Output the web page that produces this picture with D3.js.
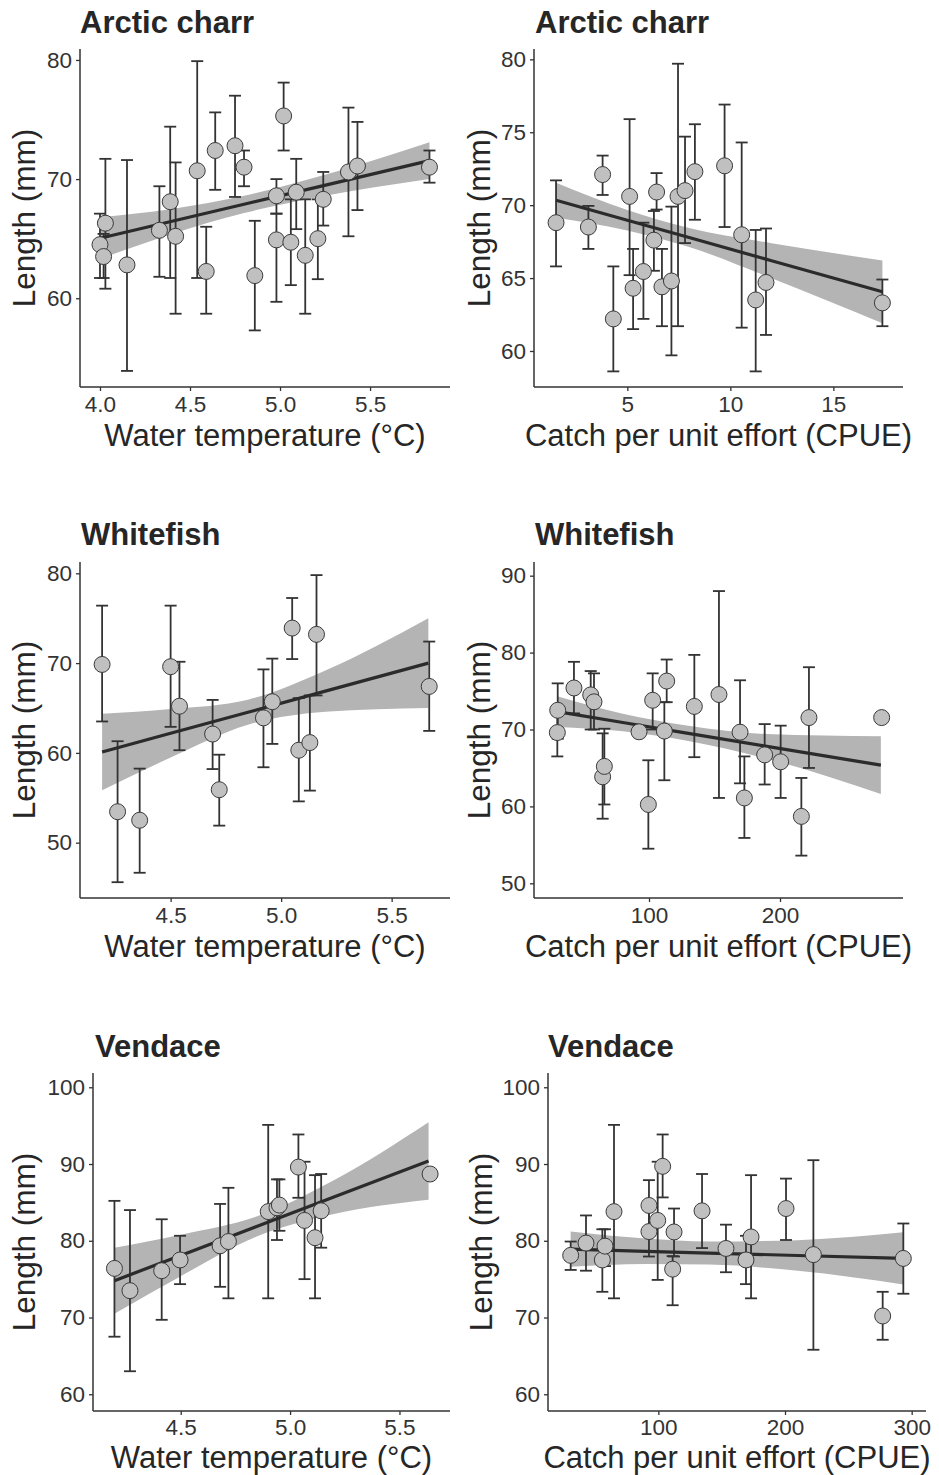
<!DOCTYPE html>
<html>
<head>
<meta charset="utf-8">
<script src="https://cdn.jsdelivr.net/npm/d3@7"></script>
<style>
  body { margin: 0; background: #fff; }
  svg { display: block; font-family: "Liberation Sans", Arial, sans-serif; }
</style>
</head>
<body>
<svg id="svg" width="939" height="1475"></svg>
<script>
// Arctic charr - water temperature
const charrTempX  = [4.00, 4.02, 4.03, 4.15, 4.33, 4.39, 4.42, 4.54, 4.59, 4.64, 4.75, 4.80, 4.86, 4.98, 4.98, 5.02, 5.06, 5.09, 5.14, 5.21, 5.24, 5.38, 5.43, 5.83];
const charrTempY  = [64.5, 63.5, 66.3, 62.8, 65.7, 68.1, 65.2, 70.7, 62.25, 72.4, 72.8, 71.0, 61.9, 68.6, 64.9, 75.3, 64.7, 68.9, 63.6, 65.0, 68.3, 70.6, 71.1, 71.0];
const charrTempLo = [61.7, 61.7, 60.8, 53.9, 61.8, 61.7, 58.7, 61.7, 58.7, 69.1, 68.5, 69.4, 57.3, 67.1, 59.7, 72.4, 61.1, 65.8, 58.7, 61.6, 66.1, 65.2, 67.4, 69.7];
const charrTempHi = [67.1, 65.4, 71.7, 71.6, 69.4, 74.4, 71.4, 79.9, 66.0, 75.6, 77.0, 72.4, 66.5, 70.0, 67.1, 78.1, 68.3, 71.7, 68.3, 68.3, 70.6, 76.0, 74.8, 72.4];

// Arctic charr - CPUE
const charrCpueX  = [1.54, 3.11, 3.80, 4.32, 5.11, 5.28, 5.78, 6.29, 6.42, 6.68, 7.14, 7.46, 7.80, 8.28, 9.72, 10.55, 11.23, 11.73, 17.38];
const charrCpueY  = [68.8, 68.5, 72.1, 62.2, 70.6, 64.3, 65.45, 67.6, 70.9, 64.4, 64.8, 70.6, 71.0, 72.3, 72.7, 67.97, 63.5, 64.7, 63.3];
const charrCpueLo = [65.8, 67.0, 70.7, 58.6, 65.2, 61.5, 62.2, 65.5, 69.7, 61.7, 59.7, 61.7, 67.4, 69.0, 68.5, 61.6, 58.6, 61.1, 61.7];
const charrCpueHi = [71.7, 69.95, 73.4, 65.8, 75.9, 67.0, 68.8, 69.6, 72.2, 67.0, 69.9, 79.7, 74.7, 75.55, 76.9, 74.3, 68.3, 68.4, 64.9];

// Whitefish - water temperature
const whiteTempX  = [4.19, 4.26, 4.36, 4.50, 4.54, 4.69, 4.72, 4.92, 4.96, 5.05, 5.08, 5.13, 5.16, 5.67];
const whiteTempY  = [69.85, 53.45, 52.5, 69.6, 65.2, 62.1, 55.9, 63.9, 65.7, 73.9, 60.3, 61.15, 73.2, 67.4];
const whiteTempLo = [63.5, 45.6, 46.65, 62.9, 60.3, 58.2, 51.9, 58.4, 61.0, 70.45, 54.6, 55.8, 66.4, 62.45];
const whiteTempHi = [76.4, 61.3, 58.25, 76.4, 70.15, 65.9, 59.8, 69.3, 70.5, 77.25, 66.1, 66.4, 79.8, 72.4];

// Whitefish - CPUE
const whiteCpueX  = [30.3, 30.0, 42.7, 55.5, 58.0, 64.6, 65.9, 92.4, 99.5, 102.8, 111.7, 113.5, 134.6, 153.4, 169.5, 172.8, 188.3, 200.5, 216.3, 222.1, 277.6];
const whiteCpueY  = [72.5, 69.6, 75.4, 74.5, 73.6, 63.85, 65.2, 69.7, 60.25, 73.8, 69.8, 76.3, 73.0, 74.55, 69.65, 61.1, 66.7, 65.8, 58.7, 71.55, 71.55];
const whiteCpueLo = [68.8, 66.5, 72.1, 70.0, 70.0, 58.4, 60.25, 69.0, 54.5, 70.0, 63.4, 73.55, 66.4, 61.1, 63.0, 55.9, 62.85, 61.1, 53.6, 65.0, 71.0];
const whiteCpueHi = [76.0, 72.5, 78.8, 77.6, 77.3, 69.5, 70.1, 70.4, 66.0, 77.3, 73.55, 79.1, 79.7, 88.0, 76.4, 66.5, 70.7, 70.5, 63.7, 78.1, 72.1];

// Vendace - water temperature
const vendTempX  = [4.197, 4.268, 4.413, 4.497, 4.68, 4.718, 4.90, 4.94, 4.951, 5.038, 5.066, 5.114, 5.142, 5.64];
const vendTempY  = [76.4, 73.5, 76.1, 77.5, 79.35, 79.9, 83.8, 84.3, 84.65, 89.6, 82.65, 80.4, 83.9, 88.7];
const vendTempLo = [67.5, 63.0, 69.7, 74.35, 74.0, 72.5, 72.5, 80.1, 81.3, 85.6, 75.0, 72.5, 79.1, 88.2];
const vendTempHi = [85.2, 84.0, 82.8, 80.65, 84.8, 86.9, 95.1, 88.0, 88.0, 93.85, 90.3, 88.55, 88.7, 89.2];

// Vendace - CPUE
const vendCpueX  = [30.8, 42.9, 55.8, 57.9, 65.0, 92.6, 92.6, 99.5, 103.4, 112.4, 111.3, 134.5, 153.4, 169.2, 173.2, 200.8, 222.4, 277.1, 293.4];
const vendCpueY  = [78.1, 79.7, 77.5, 79.3, 83.8, 84.6, 81.2, 82.65, 89.7, 81.15, 76.3, 83.9, 79.0, 77.5, 80.5, 84.2, 78.2, 70.2, 77.7];
const vendCpueLo = [76.2, 76.1, 73.35, 76.7, 72.5, 81.3, 77.95, 74.9, 85.65, 77.95, 71.6, 79.05, 75.9, 74.35, 72.5, 80.1, 65.8, 67.1, 73.1];
const vendCpueHi = [79.9, 83.3, 81.5, 81.5, 95.1, 87.9, 84.5, 90.3, 93.85, 84.2, 78.0, 88.7, 82.1, 80.65, 88.55, 88.1, 90.5, 73.35, 82.25];

// fitted lm line and 95% band, read at a few x positions
const charrTempFitX = [4.0, 4.4, 4.8, 5.2, 5.83];
const charrTempFit  = [65.04, 66.46, 67.89, 69.31, 71.55];
const charrTempFitLo = [63.3, 65.4, 67.15, 68.45, 70.0];
const charrTempFitHi = [66.8, 67.5, 68.6, 70.15, 73.1];

const charrCpueFitX = [1.54, 5, 8, 12, 17.38];
const charrCpueFit  = [70.34, 68.97, 67.78, 66.19, 64.06];
const charrCpueFitLo = [69.14, 68.27, 67.13, 64.99, 61.91];
const charrCpueFitHi = [71.54, 69.67, 68.43, 67.39, 66.21];

const whiteTempFitX = [4.19, 4.5, 4.85, 5.2, 5.666];
const whiteTempFit  = [60.1, 62.18, 64.53, 66.88, 70.0];
const whiteTempFitLo = [55.85, 59.48, 63.13, 64.58, 65.0];
const whiteTempFitHi = [64.35, 64.88, 65.93, 69.18, 75.0];

const whiteCpueFitX = [30, 80, 130, 190, 277];
const whiteCpueFit  = [72.32, 70.91, 69.5, 67.81, 65.36];
const whiteCpueFitLo = [70.32, 69.76, 68.5, 66.21, 61.61];
const whiteCpueFitHi = [74.32, 72.06, 70.5, 69.41, 69.11];

const vendTempFitX = [4.197, 4.5, 4.85, 5.2, 5.633];
const vendTempFit  = [74.8, 78.09, 81.89, 85.69, 90.4];
const vendTempFitLo = [70.5, 75.39, 80.59, 83.49, 85.35];
const vendTempFitHi = [79.1, 80.79, 83.19, 87.89, 95.45];

const vendCpueFitX = [30.8, 90, 140, 210, 293.4];
const vendCpueFit  = [78.9, 78.63, 78.4, 78.08, 77.7];
const vendCpueFitLo = [76.6, 76.98, 76.9, 76.08, 74.3];
const vendCpueFitHi = [81.2, 80.28, 79.9, 80.08, 81.1];

// tick values
const tempTicksA = [4.0, 4.5, 5.0, 5.5];
const tempTicksB = [4.5, 5.0, 5.5];
const charrCpueTicks = [5, 10, 15];
const cpueTicks = [100, 200];
const cpueTicksV = [100, 200, 300];
const lenTicksCharr = [60, 70, 80];
const lenTicksCharr5 = [60, 65, 70, 75, 80];
const lenTicksWhite = [50, 60, 70, 80];
const lenTicksWhite2 = [50, 60, 70, 80, 90];
const lenTicksVend = [60, 70, 80, 90, 100];

const speciesTitles = ["Arctic charr", "Whitefish", "Vendace"];
const xTitleTemp = "Water temperature (\u00B0C)";
const xTitleCpue = "Catch per unit effort (CPUE)";
const yTitle = "Length (mm)";

var svg = d3.select("#svg");
svg.append("rect").attr("width", 939).attr("height", 1475).attr("fill", "#fff");

// the right column x titles are cut off in the original
svg.append("defs").append("clipPath").attr("id", "cut")
  .append("rect").attr("x", 0).attr("y", 0).attr("width", 912).attr("height", 1475);

function pack(x, y, lo, hi) {
  return x.map(function(d, i) { return {x: d, y: y[i], lo: lo[i], hi: hi[i]}; });
}

function drawPanel(p) {
  var g = svg.append("g");

  var sx = d3.scaleLinear().domain(p.xd).range([p.left, p.right]);
  var sy = d3.scaleLinear().domain(p.yd).range([p.bottom, p.top]);

  // ribbon
  var band = pack(p.fitX, p.fit, p.fitLo, p.fitHi);
  g.append("path")
    .datum(band)
    .attr("fill", "#b4b4b4")
    .attr("d", d3.area()
      .x(function(d) { return sx(d.x); })
      .y0(function(d) { return sy(d.lo); })
      .y1(function(d) { return sy(d.hi); })
      .curve(d3.curveMonotoneX));

  var pts = pack(p.x, p.y, p.lo, p.hi);

  // error bars
  var eb = g.selectAll(".eb").data(pts).enter().append("g")
    .attr("stroke", "#333").attr("stroke-width", 1.8).attr("fill", "none");
  eb.append("line")
    .attr("x1", function(d) { return sx(d.x); }).attr("x2", function(d) { return sx(d.x); })
    .attr("y1", function(d) { return sy(d.lo); }).attr("y2", function(d) { return sy(d.hi); });
  eb.append("line")
    .attr("x1", function(d) { return sx(d.x) - 6; }).attr("x2", function(d) { return sx(d.x) + 6; })
    .attr("y1", function(d) { return sy(d.lo); }).attr("y2", function(d) { return sy(d.lo); });
  eb.append("line")
    .attr("x1", function(d) { return sx(d.x) - 6; }).attr("x2", function(d) { return sx(d.x) + 6; })
    .attr("y1", function(d) { return sy(d.hi); }).attr("y2", function(d) { return sy(d.hi); });

  // fitted line
  g.append("path")
    .datum(band)
    .attr("fill", "none")
    .attr("stroke", "#2b2b2b")
    .attr("stroke-width", 3.2)
    .attr("d", d3.line()
      .x(function(d) { return sx(d.x); })
      .y(function(d) { return sy(d.y); }));

  // points
  g.selectAll(".pt").data(pts).enter().append("circle")
    .attr("cx", function(d) { return sx(d.x); })
    .attr("cy", function(d) { return sy(d.y); })
    .attr("r", 8)
    .attr("fill", "#c0c0c0")
    .attr("stroke", "#3a3a3a")
    .attr("stroke-width", 1);

  // axes
  var ax = g.append("g").attr("transform", "translate(0," + p.bottom + ")")
    .call(d3.axisBottom(sx).tickValues(p.xt).tickSize(4).tickPadding(p.pad).tickFormat(p.xf));
  var ay = g.append("g").attr("transform", "translate(" + p.left + ",0)")
    .call(d3.axisLeft(sy).tickValues(p.yt).tickSize(4).tickPadding(4).tickFormat(d3.format("d")));
  [ax, ay].forEach(function(a) {
    a.select(".domain").attr("stroke", "#333").attr("stroke-width", 1.5);
    a.selectAll(".tick line").attr("stroke", "#333").attr("stroke-width", 1.3);
    a.selectAll(".tick text").attr("fill", "#333").style("font-size", "22.5px")
      .style("font-family", "'Liberation Sans', Arial, sans-serif");
  });
  // axis lines run to the panel edge, like ggplot
  ax.select(".domain").attr("d", "M" + p.left + ",0H" + p.right);
  ay.select(".domain").attr("d", "M0," + p.bottom + "V" + p.top);

  // titles
  g.append("text")
    .attr("x", p.titleX).attr("y", p.titleY)
    .attr("font-weight", "bold").attr("font-size", 31).attr("fill", "#262626")
    .text(p.title);

  var xt = g.append("text")
    .attr("x", (p.left + p.right) / 2).attr("y", p.bottom + p.xOff)
    .attr("text-anchor", "middle").attr("font-size", 31).attr("fill", "#262626")
    .text(p.xTitle);
  if (p.cut) xt.attr("clip-path", "url(#cut)");

  g.append("text")
    .attr("transform", "translate(" + (p.left - p.yOff) + "," + (p.top + p.bottom) / 2 + ") rotate(-90)")
    .attr("text-anchor", "middle").attr("font-size", 31.5).attr("fill", "#262626")
    .text(yTitle);
}

var f1 = d3.format(".1f");
var fd = d3.format("d");

var panels = [
  {title: speciesTitles[0], titleX: 80, titleY: 33, xTitle: xTitleTemp, xOff: 59, pad: 5,
   left: 80, right: 450, top: 49, bottom: 387, xd: [3.889, 5.944], yd: [52.55, 80.92],
   xt: tempTicksA, yt: lenTicksCharr, xf: f1, yOff: 45,
   x: charrTempX, y: charrTempY, lo: charrTempLo, hi: charrTempHi,
   fitX: charrTempFitX, fit: charrTempFit, fitLo: charrTempFitLo, fitHi: charrTempFitHi},
  {title: speciesTitles[0], titleX: 535, titleY: 33, xTitle: xTitleCpue, xOff: 59, pad: 5, cut: true,
   left: 534, right: 903, top: 49, bottom: 387, xd: [0.47, 18.38], yd: [57.53, 80.71],
   xt: charrCpueTicks, yt: lenTicksCharr5, xf: fd, yOff: 44,
   x: charrCpueX, y: charrCpueY, lo: charrCpueLo, hi: charrCpueHi,
   fitX: charrCpueFitX, fit: charrCpueFit, fitLo: charrCpueFitLo, fitHi: charrCpueFitHi},
  {title: speciesTitles[1], titleX: 81, titleY: 545, xTitle: xTitleTemp, xOff: 59, pad: 5,
   left: 80, right: 450, top: 562, bottom: 898, xd: [4.09, 5.764], yd: [43.84, 81.26],
   xt: tempTicksB, yt: lenTicksWhite, xf: f1, yOff: 45,
   x: whiteTempX, y: whiteTempY, lo: whiteTempLo, hi: whiteTempHi,
   fitX: whiteTempFitX, fit: whiteTempFit, fitLo: whiteTempFitLo, fitHi: whiteTempFitHi},
  {title: speciesTitles[1], titleX: 535, titleY: 545, xTitle: xTitleCpue, xOff: 59, pad: 5, cut: true,
   left: 534, right: 903, top: 562, bottom: 898, xd: [12.2, 293.9], yd: [48.09, 91.78],
   xt: cpueTicks, yt: lenTicksWhite2, xf: fd, yOff: 44,
   x: whiteCpueX, y: whiteCpueY, lo: whiteCpueLo, hi: whiteCpueHi,
   fitX: whiteCpueFitX, fit: whiteCpueFit, fitLo: whiteCpueFitLo, fitHi: whiteCpueFitHi},
  {title: speciesTitles[2], titleX: 95, titleY: 1057, xTitle: xTitleTemp, xOff: 57, pad: 4,
   left: 93, right: 450, top: 1073, bottom: 1411, xd: [4.099, 5.731], yd: [57.82, 101.86],
   xt: tempTicksB, yt: lenTicksVend, xf: f1, yOff: 58,
   x: vendTempX, y: vendTempY, lo: vendTempLo, hi: vendTempHi,
   fitX: vendTempFitX, fit: vendTempFit, fitLo: vendTempFitLo, fitHi: vendTempFitHi},
  {title: speciesTitles[2], titleX: 548, titleY: 1057, xTitle: xTitleCpue, xOff: 57, pad: 4,
   left: 548, right: 926, top: 1073, bottom: 1411, xd: [12.9, 311.3], yd: [57.82, 101.86],
   xt: cpueTicksV, yt: lenTicksVend, xf: fd, yOff: 56,
   x: vendCpueX, y: vendCpueY, lo: vendCpueLo, hi: vendCpueHi,
   fitX: vendCpueFitX, fit: vendCpueFit, fitLo: vendCpueFitLo, fitHi: vendCpueFitHi}
];

panels.forEach(drawPanel);
</script>
</body>
</html>
